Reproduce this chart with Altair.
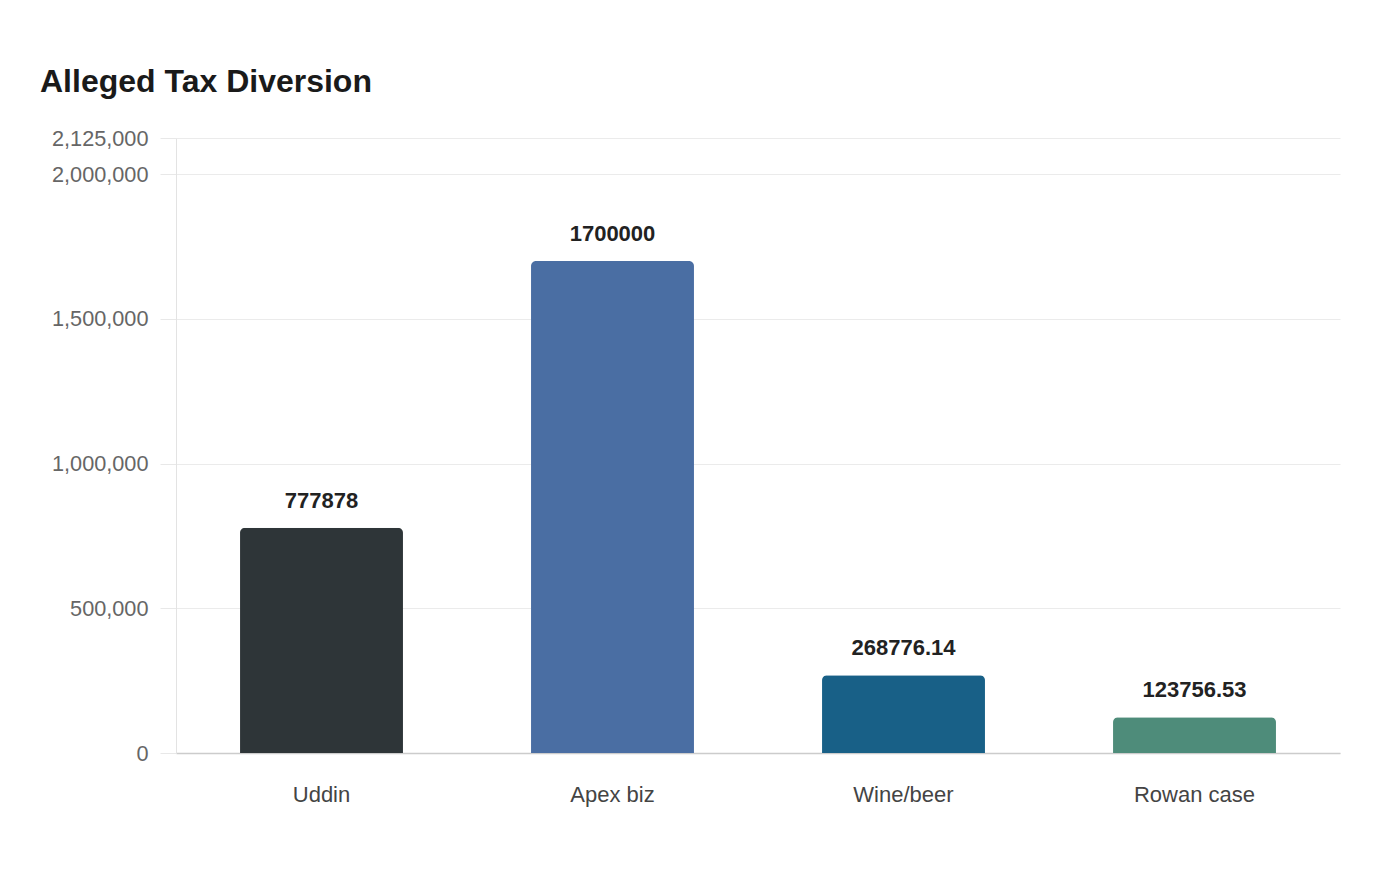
import altair as alt
import pandas as pd

categories = ["Uddin", "Apex biz", "Wine/beer", "Rowan case"]
values = [777878, 1700000, 268776.14, 123756.53]
labels = ["777878", "1700000", "268776.14", "123756.53"]
colors = ["#2e3538", "#4a6ea3", "#186087", "#4e8c7a"]
y_ticks = [0, 500000, 1000000, 1500000, 2000000, 2125000]

df = pd.DataFrame({"cat": categories, "val": values, "lab": labels})

x = alt.X("cat:N", sort=categories, title=None,
          scale=alt.Scale(paddingInner=0.44, paddingOuter=0.22),
          axis=alt.Axis(labelAngle=0, labelFont="Liberation Sans", labelFontSize=22,
                        labelColor="#444444", labelPadding=31, ticks=False,
                        domainColor="#cccccc", domainWidth=1.5, grid=False))
y = alt.Y("val:Q", title=None,
          scale=alt.Scale(domain=[0, 2125000], nice=False, zero=True),
          axis=alt.Axis(values=y_ticks, format=",.0f", labelFont="Liberation Sans",
                        labelFontSize=21.7, labelColor="#666666", labelPadding=12,
                        tickSize=16, tickColor="#e8e8e8", gridColor="#ebebeb",
                        domainColor="#e3e3e3", labelBound=False))

bars = alt.Chart(df).mark_bar(cornerRadiusTopLeft=5, cornerRadiusTopRight=5).encode(
    x=x, y=y,
    color=alt.Color("cat:N", scale=alt.Scale(domain=categories, range=colors), legend=None),
)

text = alt.Chart(df).mark_text(font="Liberation Sans", fontSize=22, fontWeight="bold",
                               color="#222222", baseline="bottom", dy=-15).encode(
    x=alt.X("cat:N", sort=categories),
    y=alt.Y("val:Q"),
    text="lab:N",
)

chart = (bars + text).properties(
    width=1164, height=615,
    background="white",
    autosize=alt.AutoSizeParams(type="none"),
    padding={"left": 168, "top": 130, "right": 52, "bottom": 119},
    title=alt.TitleParams("Alleged Tax Diversion", anchor="start", frame="group",
                          font="Liberation Sans", fontSize=32, fontWeight="bold",
                          color="#1a1a1a", dx=-136, offset=29),
).configure_view(stroke="transparent", strokeWidth=0)

chart.save("out.html", embed_options={"renderer": "svg", "actions": False})
